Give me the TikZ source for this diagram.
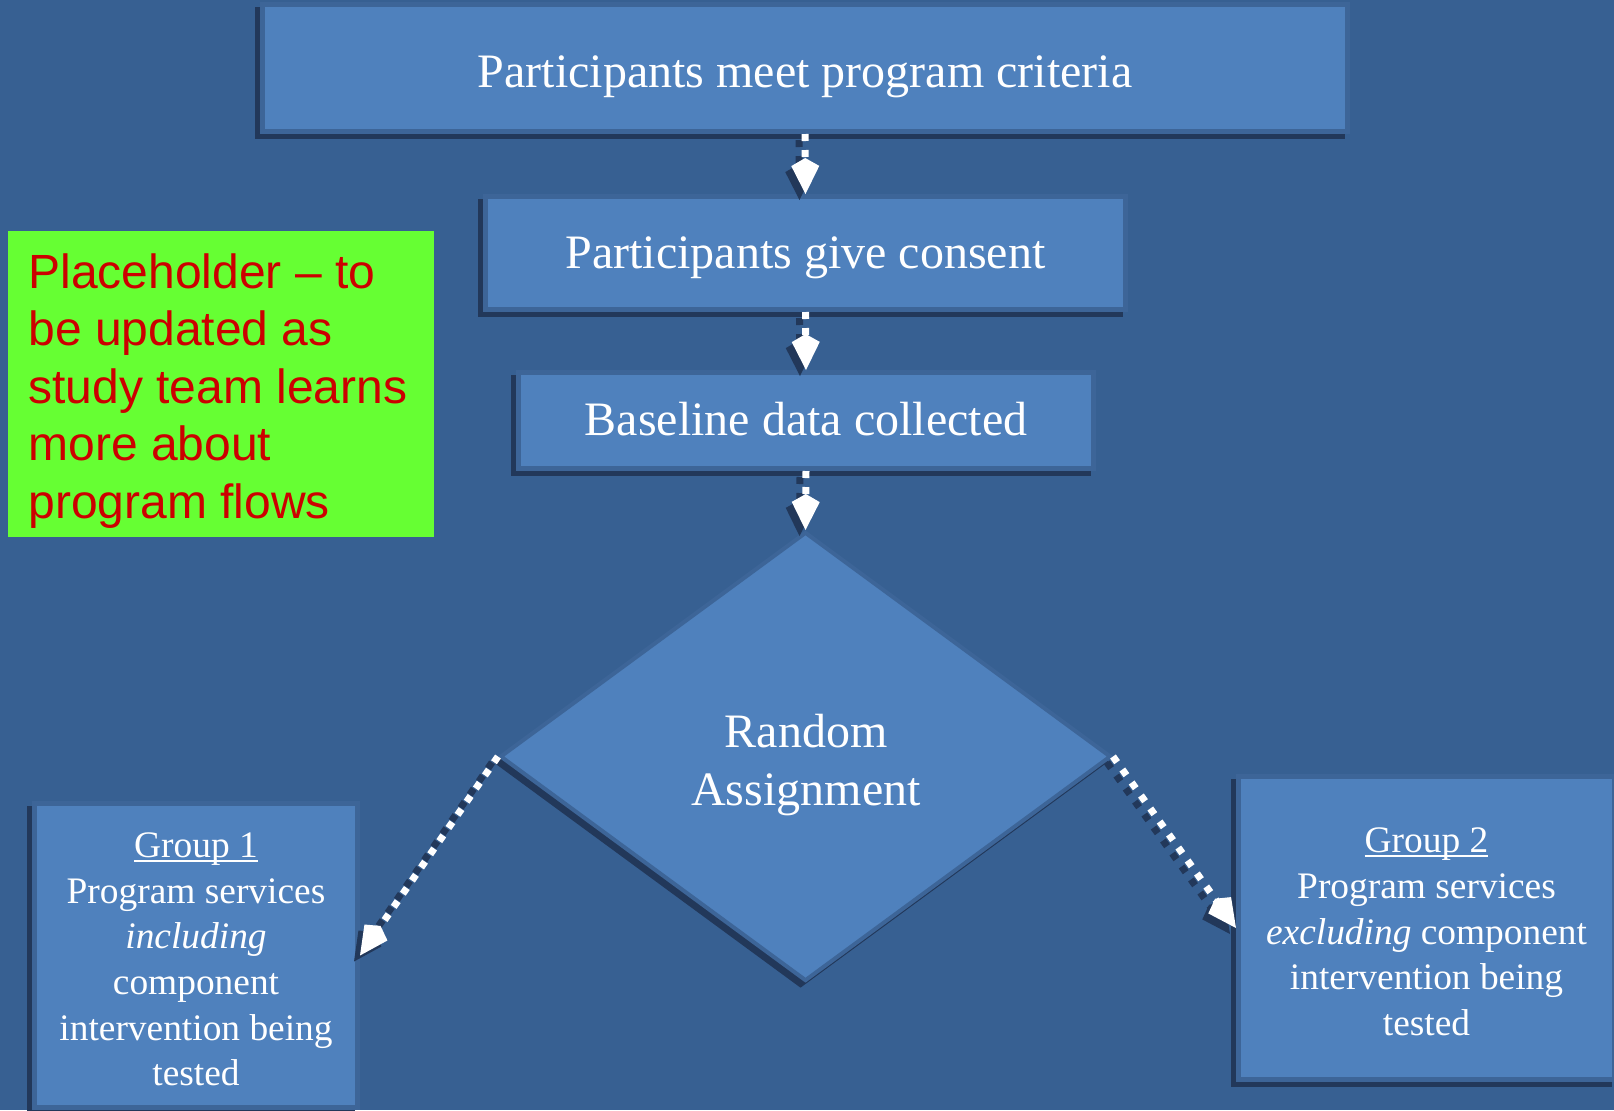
\documentclass[tikz,border=0pt]{standalone}
\usepackage{fontspec}
\setmainfont{Liberation Serif}
\newfontfamily\arialf{Liberation Sans}
\usetikzlibrary{shapes.geometric,shadows,arrows.meta}
\definecolor{bgc}{RGB}{55,96,146}
\definecolor{boxc}{RGB}{79,129,189}
\definecolor{edgec}{RGB}{61,101,152}
\definecolor{shadc}{RGB}{34,56,90}
\definecolor{greenc}{RGB}{102,255,51}
\definecolor{redc}{RGB}{204,0,0}
\newcommand\grpul[1]{\setbox0\hbox{#1}\makebox[0pt][l]{\rule[-2.2pt]{\wd0}{0.9pt}}\box0}
\begin{document}
\begin{tikzpicture}[x=0.5pt,y=-0.5pt,
  pbox/.style={rectangle, fill=boxc, draw=edgec, line width=2.5pt, inner sep=0pt, text=white,
    drop shadow={shadow xshift=-2.5pt, shadow yshift=-2.5pt, opacity=1, fill=shadc, draw=shadc, line width=2.5pt}},
  dbox/.style={diamond, fill=boxc, draw=edgec, line width=2pt, inner sep=0pt,
    drop shadow={shadow xshift=-2.5pt, shadow yshift=-2.5pt, opacity=1, fill=shadc, draw=shadc, line width=2pt}},
  bigtxt/.style={font=\fontsize{24}{29}\selectfont, text depth=5.2pt},
  grptxt/.style={font=\fontsize{18.7}{22.85}\selectfont, align=center, text=white, inner sep=0pt},
  flow/.style={draw=white, line width=3.5pt, dash pattern=on 3.5pt off 4.5pt,
    -{Kite[length=18pt,width=14pt,inset=4pt,line width=0pt]}},
  flowsh/.style={flow, draw=shadc, transform canvas={shift={(-6,6)}}},
]
\useasboundingbox (0,0) rectangle (1614,1110);
\fill[bgc] (0,0) rectangle (1614,1110);

\node[pbox, bigtxt, text height=24.2pt, minimum width=542.5pt, minimum height=63.5pt] (b1) at (805,68) {Participants meet program criteria};
\node[pbox, bigtxt, text height=20.2pt, minimum width=320pt, minimum height=56.5pt] (b2) at (805.5,253) {Participants give consent};
\node[pbox, bigtxt, text height=19.7pt, minimum width=287.5pt, minimum height=48pt] (b3) at (806,420.5) {Baseline data collected};
\node[dbox, minimum width=305.5pt, minimum height=224.5pt] (dia) at (805.5,756.5) {};
\node[font=\fontsize{24}{29}\selectfont, text=white, align=center, inner sep=0pt] (diat) at (806,765.5) {Random\\Assignment};

\node[pbox, minimum width=161.5pt, minimum height=152pt] (g1) at (196,955.5) {};
\node[grptxt] (g1t) at (196,959.5)
  {\grpul{Group 1}\\Program services\\\textit{including}\\component\\intervention being\\tested};
\node[pbox, minimum width=188pt, minimum height=151.5pt] (g2) at (1426.5,928) {};
\node[grptxt] (g2t) at (1426.5,932)
  {\grpul{Group 2}\\Program services\\\textit{excluding} component\\intervention being\\tested};

\node[fill=greenc, minimum width=213pt, minimum height=153pt, inner sep=0pt] (ph) at (221,384) {};
\node[anchor=north west, inner sep=0pt, align=left, text=redc,
  font=\arialf\fontsize{24}{28.75}\selectfont] (pht) at (28,253)
  {Placeholder – to\\be updated as\\study team learns\\more about\\program flows};

\draw[flowsh] (b1.south) -- (b2.north);
\draw[flow] (b1.south) -- (b2.north);
\draw[flowsh] (b2.south) -- (b3.north);
\draw[flow] (b2.south) -- (b3.north);
\draw[flowsh] (b3.south) -- (dia.north);
\draw[flow] (b3.south) -- (dia.north);
\draw[flowsh] (dia.west) -- (g1.east);
\draw[flow] (dia.west) -- (g1.east);
\draw[flowsh] (dia.east) -- (g2.west);
\draw[flow] (dia.east) -- (g2.west);
\end{tikzpicture}
\end{document}
